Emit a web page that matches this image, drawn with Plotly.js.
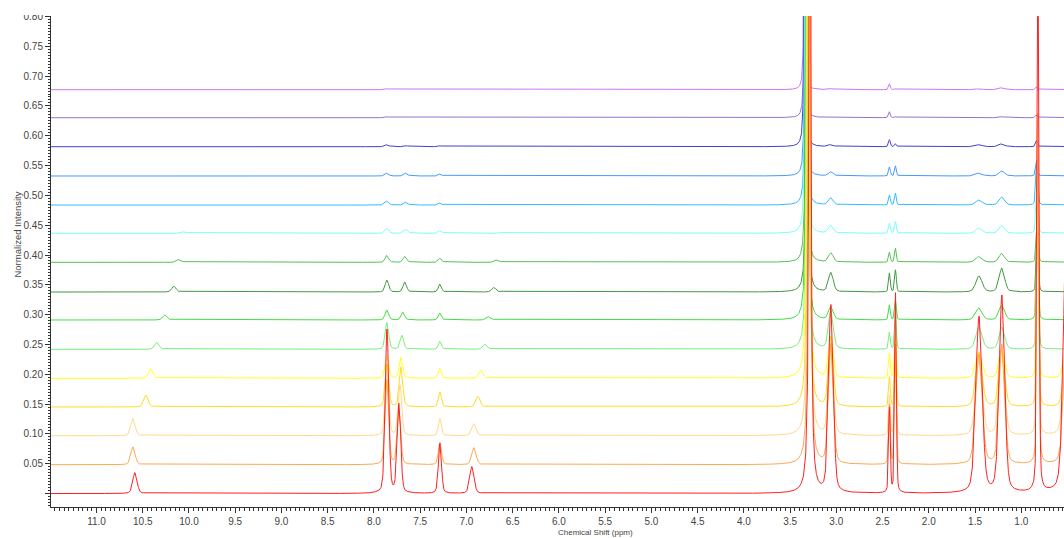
<!DOCTYPE html>
<html>
<head>
<meta charset="utf-8">
<script src="https://cdn.plot.ly/plotly-3.0.1.min.js"></script>
<style>html,body{margin:0;padding:0;background:#fff;}#chart{width:1064px;height:538px;}</style>
</head>
<body>
<div id="chart"></div>
<script>
// ---- Data (15 stacked 1H NMR spectra) ----
const traceColors = ['#ff2020','#ffa850','#ffd98a','#ffdc22','#ffff22','#77ee77','#44dd44','#3f993f','#55c055','#77ffff','#33bbff','#4499ff','#4040cc','#9970cc','#cc77ee'];
const baselines = [0, 0.0483, 0.0969, 0.1451, 0.1932, 0.2418, 0.2910, 0.3379, 0.3877, 0.4364, 0.4838, 0.5325, 0.5816, 0.6302, 0.6772];

// peak groups: chemical shift (ppm) and height (normalized intensity) per spectrum
const nhShift   = [10.584,10.605,10.605,10.465,10.411,10.346,10.259,10.162,10.108,10.054,10.0,10.0,10.0,10.0,10.0];
const nhHeight  = [0.035,0.030,0.0285,0.020,0.0168,0.0117,0.0084,0.010,0.005,0.0025,0,0,0,0,0];
const ar1Shift  = [7.859,7.859,7.859,7.859,7.859,7.859,7.859,7.859,7.859,7.859,7.859,7.859,7.859,7.859,7.859];
const ar1Height = [0.275,0.1425,0.112,0.072,0.037,0.045,0.0168,0.020,0.0117,0.0084,0.0067,0.005,0.0034,0.0017,0.0017];
const ar2Shift  = [7.729,7.729,7.718,7.707,7.707,7.697,7.686,7.665,7.665,7.654,7.654,7.654,7.654,7.654,7.654];
const ar2Height = [0.149,0.092,0.084,0.067,0.035,0.0235,0.0134,0.0168,0.010,0.0067,0.005,0.005,0.0017,0.0008,0.0008];
const ar3Shift  = [7.286,7.286,7.286,7.286,7.286,7.286,7.286,7.286,7.286,7.286,7.286,7.286,7.286,7.286,7.286];
const ar3Height = [0.084,0.037,0.0285,0.025,0.0168,0.0134,0.0117,0.0134,0.0067,0.005,0.0034,0.0034,0.0017,0,0];
const ar4Shift  = [6.940,6.918,6.918,6.875,6.842,6.799,6.756,6.702,6.669,6.615,6.58,6.58,6.58,6.58,6.58];
const ar4Height = [0.045,0.0285,0.020,0.018,0.0134,0.0084,0.0059,0.0075,0.0042,0.0017,0,0,0,0,0];
const waterShift  = [3.285,3.290,3.296,3.301,3.307,3.312,3.317,3.317,3.323,3.328,3.328,3.334,3.339,3.339,3.344];
const waterHeight = [2.0,2.0,2.0,2.0,2.0,1.8,1.8,1.6,1.6,1.5,1.5,1.4,1.3,1.2,1.2];
const waterWidth  = [0.017,0.017,0.017,0.016,0.016,0.015,0.014,0.013,0.012,0.012,0.011,0.010,0.010,0.009,0.008];
const ch2aShift  = [3.058,3.058,3.058,3.058,3.058,3.058,3.058,3.058,3.058,3.058,3.058,3.058,3.058,3.058,3.058];
const ch2aHeight = [0.314,0.201,0.151,0.117,0.067,0.064,0.0218,0.0319,0.0151,0.0134,0.0117,0.0067,0.0034,0.0008,0.0017];
const dmsoShift  = [2.425,2.425,2.425,2.425,2.425,2.425,2.425,2.425,2.425,2.425,2.425,2.425,2.425,2.425,2.425];
const dmsoHeight = [0.1425,0.1006,0.067,0.050,0.042,0.0285,0.025,0.0319,0.0168,0.0168,0.0168,0.0151,0.0117,0.010,0.010];
const ch2bShift  = [2.360,2.360,2.360,2.360,2.360,2.360,2.360,2.360,2.360,2.360,2.360,2.360,2.360,2.360,2.360];
const ch2bHeight = [0.335,0.201,0.134,0.1006,0.0755,0.0587,0.0335,0.0369,0.0235,0.020,0.020,0.0168,0.005,0.0017,0.0017];
const ch2cShift  = [1.457,1.457,1.457,1.457,1.457,1.457,1.457,1.457,1.457,1.457,1.457,1.457,1.457,1.457,1.457];
const ch2cHeight = [0.295,0.1845,0.134,0.092,0.0436,0.0369,0.020,0.0268,0.010,0.0084,0.0084,0.005,0.0034,0.0008,0.0017];
const ch2dShift  = [1.209,1.209,1.209,1.209,1.209,1.209,1.209,1.209,1.209,1.209,1.209,1.209,1.209,1.209,1.209];
const ch2dHeight = [0.330,0.201,0.151,0.1006,0.050,0.0369,0.025,0.040,0.0151,0.0134,0.0134,0.0084,0.005,0.0017,0.0034];
const ch3Shift  = [0.819,0.819,0.821,0.821,0.823,0.823,0.825,0.825,0.827,0.829,0.831,0.833,0.835,0.835,0.835];
const ch3Height = [0.90,0.59,0.47,0.37,0.285,0.22,0.15,0.10,0.067,0.084,0.075,0.025,0.010,0.005,0.005];
const edgeShift  = [0.506,0.506,0.506,0.506,0.506,0.506,0.506,0.506,0.506,0.506,0.506,0.506,0.506,0.506,0.506];
const edgeHeight = [0.50,0.22,0.19,0.09,0.05,0,0,0,0,0,0,0,0,0,0];

// line widths (FWHM, ppm) and Lorentzian fraction of each signal
const groups = [
  {shift: nhShift,   height: nhHeight,   fwhm: 0.055, eta: 0.3},
  {shift: ar1Shift,  height: ar1Height,  fwhm: 0.045, eta: 0.3},
  {shift: ar2Shift,  height: ar2Height,  fwhm: 0.045, eta: 0.3},
  {shift: ar3Shift,  height: ar3Height,  fwhm: 0.040, eta: 0.3},
  {shift: ar4Shift,  height: ar4Height,  fwhm: 0.055, eta: 0.3},
  {shift: waterShift,height: waterHeight,fwhm: waterWidth, eta: 1.0},
  {shift: ch2aShift, height: ch2aHeight, fwhm: 0.060, eta: 0.3},
  {shift: dmsoShift, height: dmsoHeight, fwhm: 0.022, eta: 0.3},
  {shift: ch2bShift, height: ch2bHeight, fwhm: 0.022, eta: 0.3},
  {shift: ch2cShift, height: ch2cHeight, fwhm: 0.080, eta: 0.3},
  {shift: ch2dShift, height: ch2dHeight, fwhm: 0.070, eta: 0.3},
  {shift: ch3Shift,  height: ch3Height,  fwhm: 0.025, eta: 0.3},
  {shift: edgeShift, height: edgeHeight, fwhm: 0.080, eta: 0.3}
];

const yTickVals = [0,0.05,0.10,0.15,0.20,0.25,0.30,0.35,0.40,0.45,0.50,0.55,0.60,0.65,0.70,0.75,0.80];
const yTickText = ['','0.05','0.10','0.15','0.20','0.25','0.30','0.35','0.40','0.45','0.50','0.55','0.60','0.65','0.70','0.75','0.80'];

// ---- build spectra ----
const ppmLo = 0.40, ppmHi = 11.60, ppmStep = 0.002;
const LN2x4 = 4*Math.log(2);
function lineShape(d, w, eta){
  const r = (d/w)*(d/w);
  return (1-eta)*Math.exp(-LN2x4*r) + eta/(1+4*r);
}
const xs = [];
for (let k = 0; ppmLo + k*ppmStep <= ppmHi; k++) xs.push(+(ppmLo + k*ppmStep).toFixed(4));

const traces = [];
for (let i = baselines.length - 1; i >= 0; i--) {
  const ys = new Array(xs.length);
  for (let k = 0; k < xs.length; k++) {
    let v = baselines[i];
    for (const g of groups) {
      const h = g.height[i];
      if (!h) continue;
      const w = Array.isArray(g.fwhm) ? g.fwhm[i] : g.fwhm;
      v += h * lineShape(xs[k] - g.shift[i], w, g.eta);
    }
    ys[k] = v;
  }
  traces.push({x: xs, y: ys, type: 'scatter', mode: 'lines',
    line: {color: traceColors[i], width: 1}, hoverinfo: 'skip', showlegend: false});
}

const tickFont = {family: 'Liberation Sans, Arial, sans-serif', size: 10, color: '#444'};
const layout = {
  width: 1064, height: 538,
  margin: {l: 51, r: 0, t: 16, b: 31, pad: 0},
  paper_bgcolor: '#fff', plot_bgcolor: '#fff',
  showlegend: false,
  xaxis: {
    range: [11.492, 0.538], showgrid: false, zeroline: false,
    showline: true, linecolor: '#333', linewidth: 1,
    ticks: 'outside', ticklen: 5, tickcolor: '#333', tickwidth: 1,
    tick0: 0, dtick: 0.5, tickformat: '.1f', tickfont: tickFont,
    minor: {dtick: 0.05, tick0: 0, ticks: 'outside', ticklen: 3, tickcolor: '#333', showgrid: false}
  },
  yaxis: {
    range: [-0.0226, 0.8008], showgrid: false, zeroline: false,
    showline: true, linecolor: '#333', linewidth: 1,
    ticks: 'outside', ticklen: 5, tickcolor: '#333', tickwidth: 1,
    tickmode: 'array', tickvals: yTickVals, ticktext: yTickText, tickfont: tickFont,
    minor: {dtick: 0.005, tick0: 0, ticks: 'outside', ticklen: 2.5, tickcolor: '#333', showgrid: false}
  },
  annotations: [
    {text: 'Chemical Shift (ppm)', xref: 'paper', yref: 'paper', x: 0.538, y: -0.052,
     xanchor: 'center', yanchor: 'middle', showarrow: false,
     font: {family: 'Liberation Sans, Arial, sans-serif', size: 8, color: '#444'}},
    {text: 'Normalized Intensity', xref: 'paper', yref: 'paper', x: -0.0335, y: 0.555,
     xanchor: 'center', yanchor: 'middle', showarrow: false, textangle: -90,
     font: {family: 'Liberation Sans, Arial, sans-serif', size: 9.5, color: '#444'}}
  ],
  shapes: [
    {type: 'rect', xref: 'paper', yref: 'paper', x0: -0.06, x1: -0.002, y0: 1.002, y1: 1.05,
     fillcolor: '#fff', line: {width: 0}, layer: 'above'}
  ]
};
Plotly.newPlot('chart', traces, layout, {staticPlot: true, displayModeBar: false});
</script>
</body>
</html>
